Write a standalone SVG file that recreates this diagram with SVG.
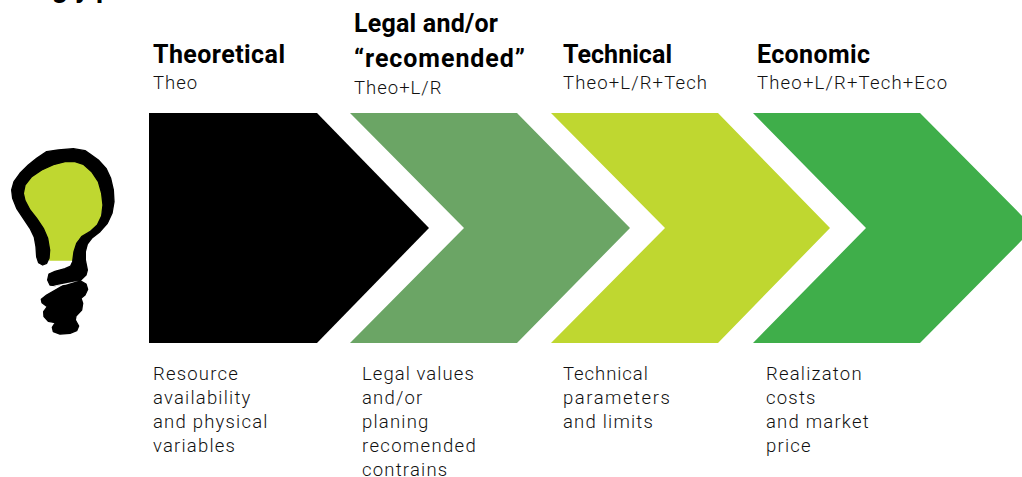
<svg xmlns="http://www.w3.org/2000/svg" width="1022" height="477" viewBox="0 0 1022 477">
<style>
text{font-family:Roboto,"Liberation Sans",sans-serif;fill:#111}
.h{font-size:25px;font-weight:700;fill:#000}
.s{font-size:18.5px;font-weight:300;letter-spacing:1px;fill:#111}
.c{font-size:18.5px;font-weight:300;letter-spacing:1.2px;fill:#111}
.ink{fill:#000;stroke:#000;stroke-width:4;stroke-linejoin:round}
</style>
<rect width="1022" height="477" fill="#fff"/>
<text class="h" style="font-size:28px" x="52 75 96" y="-3.5">gyp</text>
<g id="bulb">
<g transform="translate(0 130) scale(.33333)">
<polygon fill="#bfd730" points="148,392 218,392 235,330 300,280 315,190 270,100 190,85 90,130 60,190 90,250 135,310"/>
<polygon class="ink" points="128,405 116,398 110,380 108,350 103,322 90,295 70,265 50,235 38,205 35,180 42,155 60,130 85,105 110,85 140,65 175,60 220,56 255,62 270,72 295,90 318,115 332,145 340,180 342,215 336,250 322,280 300,305 275,325 262,342 256,365 256,390 262,420 258,435 240,452 258,462 263,478 255,495 243,505 248,520 245,540 228,558 226,570 236,588 230,602 210,610 180,612 160,605 157,592 166,578 145,574 132,560 131,545 142,530 126,518 124,508 140,495 170,478 197,462 236,451 165,467 150,465 143,450 147,432 165,424 195,416 212,408 218,395 222,365 230,340 245,320 270,305 292,285 305,258 309,225 305,190 295,155 275,125 250,103 225,95 195,95 160,104 125,120 95,140 75,165 70,190 75,212 90,240 110,265 130,295 143,325 149,360 147,385 140,400"/>
<polygon fill="#fff" points="152,470 197,464 236,452 168,466"/>
</g>
</g>
<g id="step-theoretical">
<polygon fill="#000" points="149,113 317,113 429,228 317,343 149,343"/>
<text class="h" x="153" y="63" textLength="132" lengthAdjust="spacing">Theoretical</text>
<text class="s" x="153" y="89">Theo</text>
<text class="c" x="153" y="380">Resource</text><text class="c" x="153" y="404">availability</text><text class="c" x="153" y="428">and physical</text><text class="c" x="153" y="452">variables</text>
</g>
<g id="step-legal">
<polygon fill="#6ba565" points="350,113 517,113 630,228 517,343 350,343 464,228"/>
<text class="h" x="354" y="32" textLength="144" lengthAdjust="spacing">Legal and/or</text>
<text class="h" x="354" y="67" textLength="171" lengthAdjust="spacing">“recomended”</text>
<text class="s" x="354" y="94">Theo+L/R</text>
<text class="c" x="362" y="380" textLength="113" lengthAdjust="spacing">Legal values</text><text class="c" x="362" y="404">and/or</text><text class="c" x="362" y="428">planing</text><text class="c" x="362" y="452" textLength="115" lengthAdjust="spacing">recomended</text><text class="c" x="362" y="476">contrains</text>
</g>
<g id="step-technical">
<polygon fill="#bfd730" points="551,113 718,113 830,228 718,343 551,343 665,228"/>
<text class="h" x="563" y="63" textLength="109" lengthAdjust="spacing">Technical</text>
<text class="s" x="563" y="89" textLength="145" lengthAdjust="spacing">Theo+L/R+Tech</text>
<text class="c" x="563" y="380" textLength="86" lengthAdjust="spacing">Technical</text><text class="c" x="563" y="404" textLength="108" lengthAdjust="spacing">parameters</text><text class="c" x="563" y="428">and limits</text>
</g>
<g id="step-economic">
<polygon fill="#3fae4a" points="753,113 920,113 1034,228 920,343 753,343 866,228"/>
<text class="h" x="757" y="63" textLength="113" lengthAdjust="spacing">Economic</text>
<text class="s" x="757" y="89" textLength="191" lengthAdjust="spacing">Theo+L/R+Tech+Eco</text>
<text class="c" x="766" y="380">Realizaton</text><text class="c" x="766" y="404">costs</text><text class="c" x="766" y="428">and market</text><text class="c" x="766" y="452">price</text>
</g>
<g id="connectors"/>
</svg>
